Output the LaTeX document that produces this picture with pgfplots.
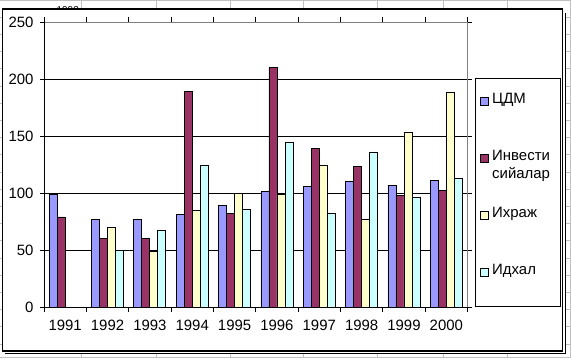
\documentclass[border=0pt]{standalone}
\usepackage{pgfplots}
\pgfplotsset{compat=1.18}
\usepackage{fontspec}
\setmainfont{Liberation Sans}
\definecolor{cA}{HTML}{9999FF}
\definecolor{cB}{HTML}{993366}
\definecolor{cC}{HTML}{FFFFCC}
\definecolor{cD}{HTML}{CCFFFF}
\definecolor{sheet}{HTML}{C0C0C0}
\newcommand{\lab}{\fontsize{15}{18}\selectfont}
\begin{document}
\begin{tikzpicture}[x=1bp,y=1bp]
\path[use as bounding box] (0,0) rectangle (571,358);
\fill[white] (0,0) rectangle (571,358);
% spreadsheet background
\begin{scope}
\clip (0,0) rectangle (571,358);
\node[anchor=base east, font=\fontsize{10}{12}\selectfont, inner sep=0pt] at (79,345) {1993};
\foreach \xx in {81,156,230,303,377,443,507,570.5}
  \draw[sheet, line width=1bp] (\xx,0) -- (\xx,358);
\foreach \yy in {357.5,340.8,323.6,306.4,289.2,272,254.8,237.6,220.4,203.2,186,168.8,151.6,134.4,117.2,100,82.8,65.6,48.4,31.2,14,0.5}
  \draw[sheet, line width=1bp] (0,\yy) -- (571,\yy);
\end{scope}
% chart area
\fill[white] (2,4.5) rectangle (565.5,349);
\draw[black, line width=1.5bp] (565.5,345) -- (565.5,4.5) -- (5,4.5);
\draw[black, line width=1.2bp] (2.5,7) rectangle (562.5,349);
\begin{axis}[
  at={(44bp,51bp)}, anchor=south west,
  scale only axis, width=423.5bp, height=285bp,
  xmin=-0.5, xmax=9.5, ymin=0, ymax=250,
  ybar=0pt, bar width=8bp,
  xtick={0,...,9},
  xticklabels={1991,1992,1993,1994,1995,1996,1997,1998,1999,2000},
  xtick style={draw=none},
  extra x ticks={-0.5,0.5,...,9.5},
  extra x tick labels={},
  extra x tick style={xtick style={draw=black, line width=0.8bp}, tick align=outside, major tick length=5bp},
  ytick={0,50,...,250},
  ytick style={draw=black, line width=0.8bp},
  tick align=outside, major tick length=4bp,
  ymajorgrids, grid style={black, line width=0.8bp},
  axis line style={draw=gray, line width=0.8bp},
  tick label style={font=\lab},
  /pgf/number format/assume math mode=true,
  xticklabel style={yshift=-6bp},
  yticklabel style={xshift=-3bp},
  every axis plot/.append style={draw=black, line width=0.8bp},
  legend image code/.code={\draw[#1, draw=black, line width=0.8bp] (0bp,1.5bp) rectangle (8bp,10bp);},
  legend style={at={(1.0177,0.8035)}, anchor=north west, draw=black, line width=0.8bp,
    inner xsep=5bp, inner ysep=0pt, row sep=0pt,
    cells={anchor=base west},
    nodes={inner sep=0pt, inner xsep=3bp, text height=25bp, text depth=32bp, font=\lab}},
  legend cell align=left,
]
\addplot[fill=cA] coordinates {(0,99) (1,77) (2,77) (3,81) (4,89) (5,101) (6,106) (7,110) (8,107) (9,111)};
\addplot[fill=cB] coordinates {(0,79) (1,60) (2,60.5) (3,189) (4,82) (5,210) (6,139) (7,123) (8,98) (9,102)};
\addplot[fill=cC] coordinates {(1,70) (2,49) (3,85) (4,100) (5,99) (6,124) (7,77) (8,153.5) (9,188)};
\addplot[fill=cD] coordinates {(1,50) (2,67) (3,124) (4,86) (5,144) (6,82.5) (7,136) (8,96.5) (9,113)};
\addlegendentry{ЦДМ}
\addlegendentry{\parbox[t]{60bp}{Инвести\\сийалар}}
\addlegendentry{Ихраж}
\addlegendentry{Идхал}
\draw[black, line width=0.8bp] (rel axis cs:0,1) -- (rel axis cs:0,0) -- (rel axis cs:1,0);
\end{axis}
\end{tikzpicture}
\end{document}
